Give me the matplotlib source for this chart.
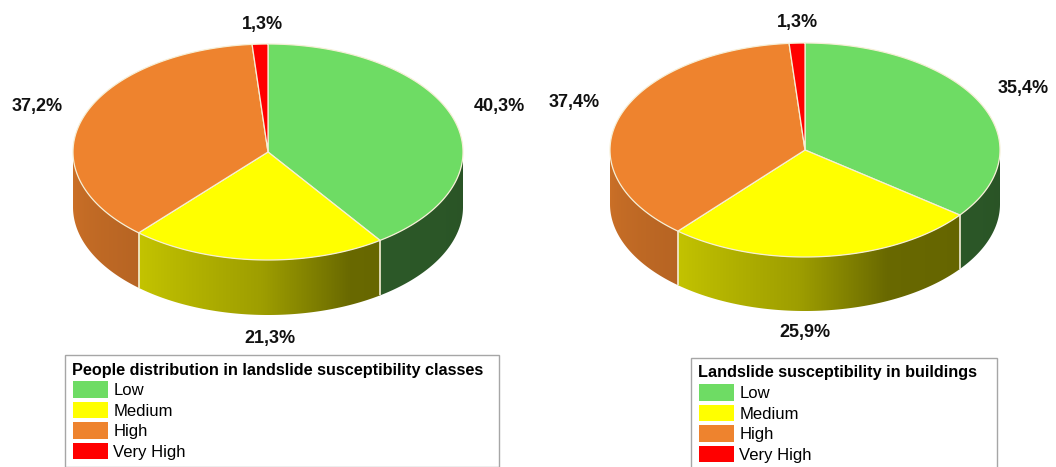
import matplotlib.pyplot as plt
import numpy as np
from matplotlib.patches import Polygon, Patch
from matplotlib.colors import to_rgb
from matplotlib.legend import Legend

plt.rcParams['font.family'] = ['Liberation Sans', 'DejaVu Sans']

classes = ["Low", "Medium", "High", "Very High"]
people_pct = [40.3, 21.3, 37.2, 1.3]
buildings_pct = [35.4, 25.9, 37.4, 1.3]
people_title = "People distribution in landslide susceptibility classes"
buildings_title = "Landslide susceptibility in buildings"

top_colors = ["#6edc64", "#ffff00", "#ee832e", "#ff0000"]
edge_col = "#f6efd6"

# side wall brightness against angle (180 = left rim, 270 = front, 360 = right rim)
shade_ang = [180, 228, 268, 295, 360]
shade_val = [0.86, 0.77, 0.62, 0.41, 0.38]


def draw_pie(ax, values, cx, cy, a, b, depth):
    bounds = 90 - 360 * np.concatenate([[0], np.cumsum(values)]) / sum(values)
    bases = np.array([to_rgb(c) for c in top_colors])

    # side wall: one shaded strip per column, clipped to the front rim
    xs = np.linspace(cx - a, cx + a, 800)
    theta = -np.degrees(np.arccos(np.clip((xs - cx) / a, -1, 1)))
    wrapped = np.where(theta > bounds[0], theta - 360, theta)
    idx = np.clip(np.searchsorted(-bounds, -wrapped) - 1, 0, len(values) - 1)
    shade = np.interp(theta + 360, shade_ang, shade_val)
    row = np.clip(bases[idx] * shade[:, None], 0, 1)
    img = np.stack([row, row])

    ts = np.radians(np.linspace(-180, 0, 300))
    top_x, top_y = cx + a * np.cos(ts), cy - b * np.sin(ts)
    outline = list(zip(top_x, top_y)) + list(zip(top_x[::-1], top_y[::-1] + depth))
    clip = Polygon(outline, closed=True, transform=ax.transData)
    im = ax.imshow(img, extent=(cx - a, cx + a, cy + b + depth, cy), aspect='auto',
                   interpolation='bilinear')
    im.set_clip_path(clip)

    for t in bounds:
        if -180 < t < 0:
            r = np.radians(t)
            x, y = cx + a * np.cos(r), cy - b * np.sin(r)
            ax.plot([x, x], [y, y + depth], color=edge_col, lw=1.2,
                    solid_capstyle='butt')

    # top face
    for i, color in enumerate(top_colors):
        ts = np.radians(np.linspace(bounds[i], bounds[i + 1], 200))
        pts = [(cx, cy)] + list(zip(cx + a * np.cos(ts), cy - b * np.sin(ts)))
        ax.add_patch(Polygon(pts, closed=True, facecolor=color,
                             edgecolor=edge_col, lw=0.9, joinstyle='round'))


def pct(v):
    return f"{v:.1f}%".replace(".", ",")


fig = plt.figure(figsize=(10.56, 4.67), dpi=100)
ax = fig.add_axes([0, 0, 1, 1])

draw_pie(ax, people_pct, 268, 152, 195, 108, 55)
draw_pie(ax, buildings_pct, 805, 150, 195, 107, 54)

ax.set_xlim(0, 1056)
ax.set_ylim(467, 0)
ax.axis('off')

# value labels: Low, Medium, High, Very High
people_lbl_xy = [(499, 106), (270, 338), (37, 106), (262, 25)]
buildings_lbl_xy = [(1023, 88), (805, 333), (574, 103), (797, 23)]
for vals, xys in [(people_pct, people_lbl_xy), (buildings_pct, buildings_lbl_xy)]:
    for v, (x, y) in zip(vals, xys):
        ax.text(x, y, pct(v), ha='center', va='center', fontsize=13,
                fontweight='bold', color='#111111')

handles = [Patch(facecolor=c, edgecolor='none') for c in top_colors]
for title, box in [(people_title, (65, 355, 434, 0)), (buildings_title, (691, 358, 306, 0))]:
    leg = Legend(ax, handles, classes, title=title, loc='upper left',
                 bbox_to_anchor=box, bbox_transform=ax.transData, mode='expand',
                 borderaxespad=0, fontsize=12,
                 title_fontproperties={'weight': 'bold', 'size': 11.7},
                 alignment='left', fancybox=False, framealpha=1,
                 edgecolor='#a6a6a6', handlelength=2.1, handleheight=1.15,
                 labelspacing=0.22, handletextpad=0.35, borderpad=0.45)
    leg.get_frame().set_linewidth(1.0)
    ax.add_artist(leg)

fig.savefig("out.png", dpi=100)
